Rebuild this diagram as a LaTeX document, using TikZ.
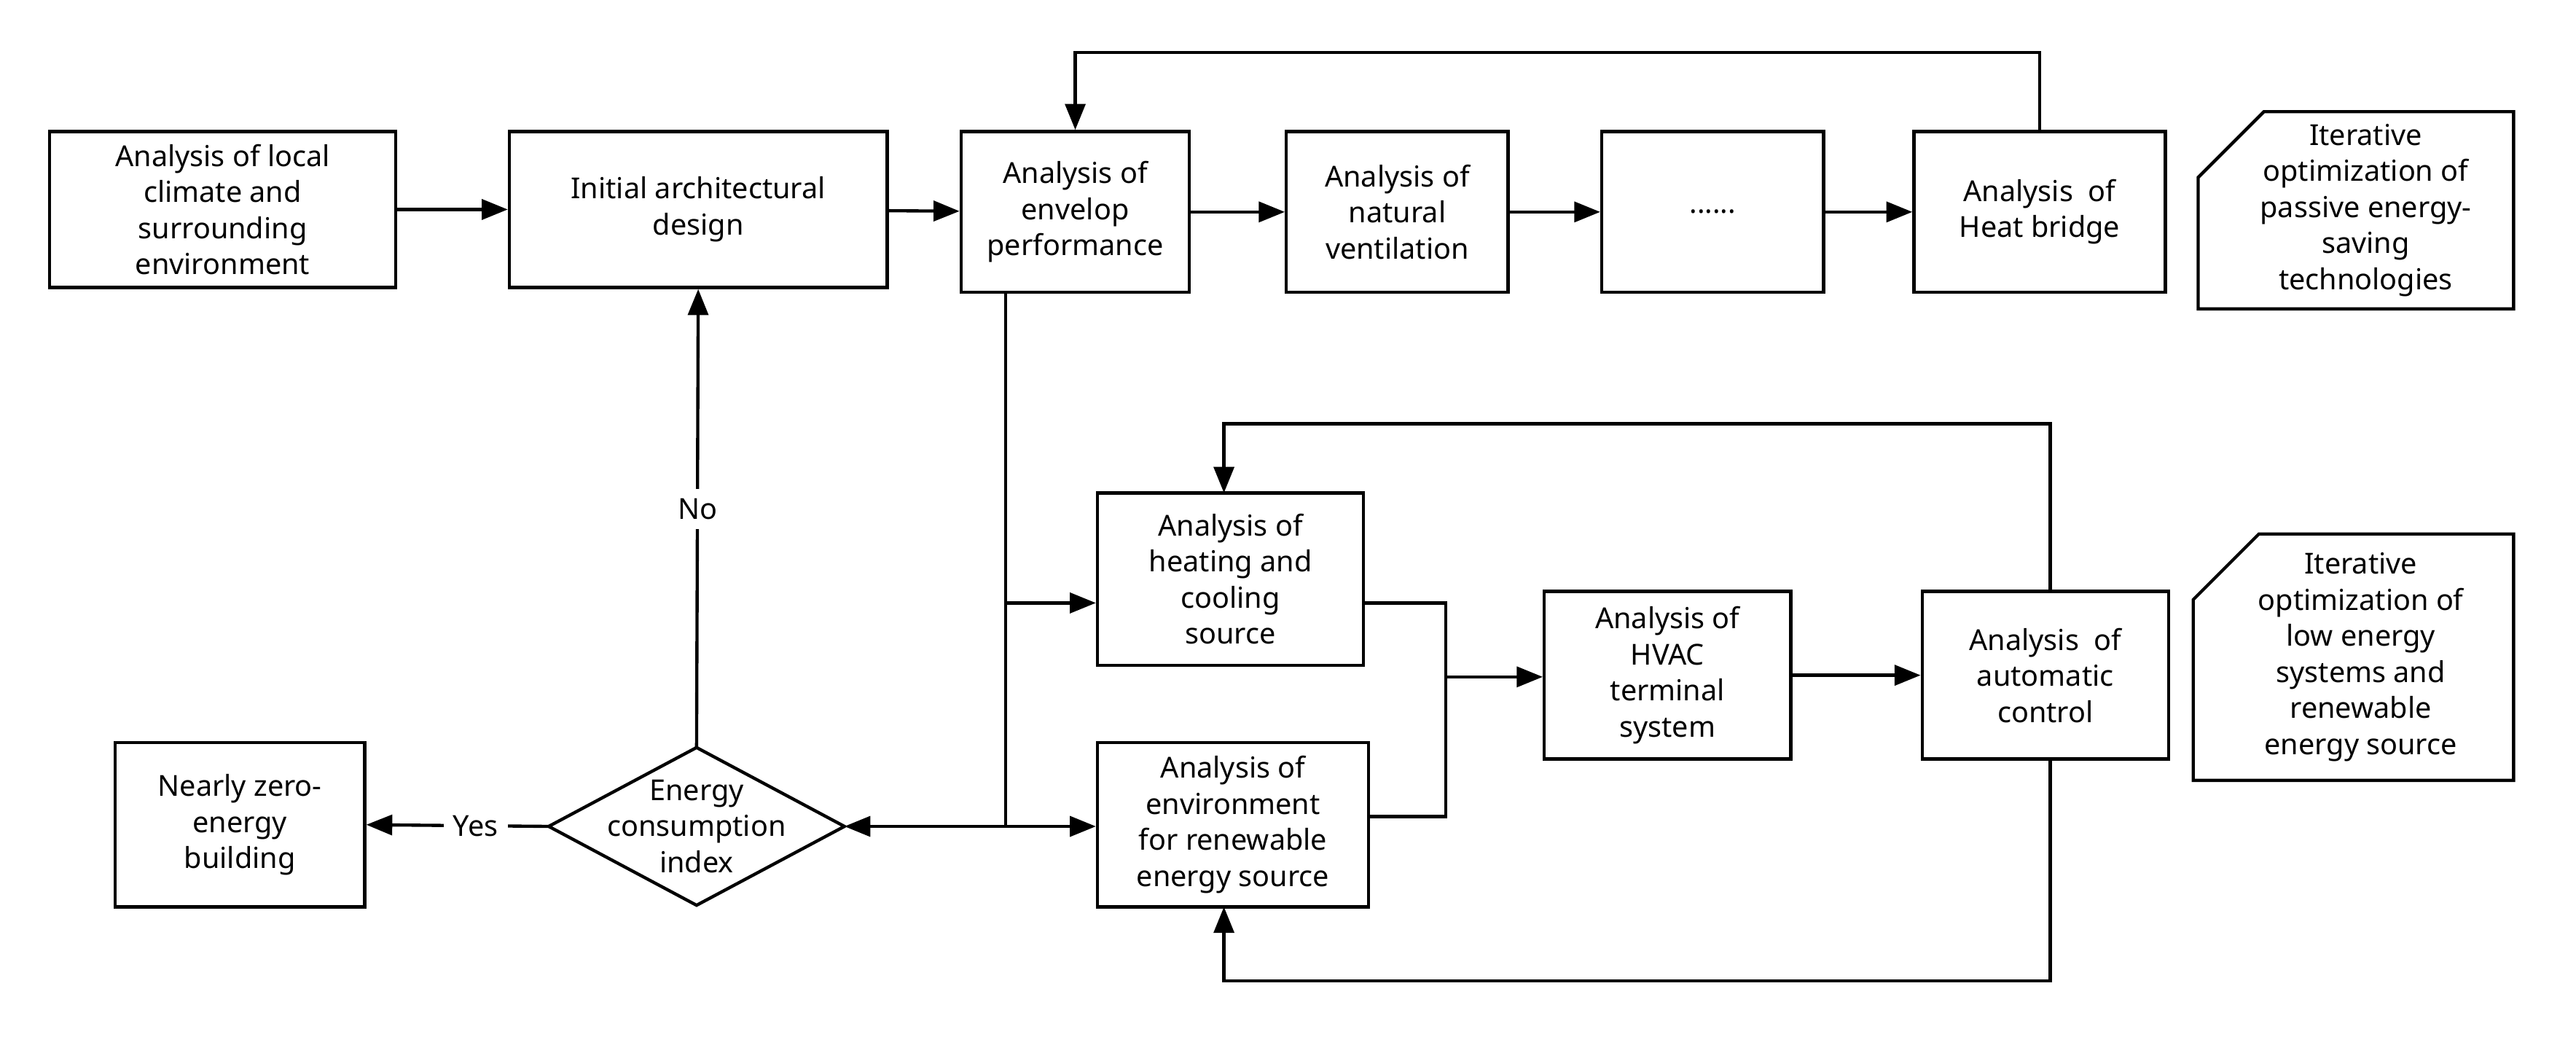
\documentclass[tikz,border=0pt]{standalone}
\usetikzlibrary{shapes.geometric,arrows.meta}
\usepackage{fontspec}
\setmainfont{Noto Sans}
\begin{document}
\begin{tikzpicture}[x=0.02cm,y=-0.02cm,
  box/.style={draw,line width=1.1pt,align=center,inner sep=1pt,font=\fontsize{10}{12.5}\selectfont},
  lab/.style={align=center,font=\fontsize{10}{12.5}\selectfont},
  ar/.style={line width=1.1pt,-{Triangle[length=9pt,width=7pt]}},
  ln/.style={line width=1.1pt}]
\useasboundingbox (0,0) rectangle (1568,636);
\node[box,minimum width=4.22cm,minimum height=1.9cm] (b1) at (135.5,127.5) {Analysis of local\\climate and\\surrounding\\environment};
\node[box,minimum width=4.6cm,minimum height=1.9cm] (b2) at (425,127.5) {Initial architectural\\design};
\node[box,minimum width=2.78cm,minimum height=1.96cm] (b3) at (654.5,129) {Analysis of\\envelop\\performance};
\node[box,minimum width=2.7cm,minimum height=1.96cm] (b4) at (850.5,129) {Analysis of\\natural\\ventilation};
\node[box,minimum width=2.7cm,minimum height=1.96cm] (b5) at (1042.5,129) {......};
\node[box,minimum width=3.06cm,minimum height=1.96cm] (b6) at (1241.5,129) {Analysis\ \ of\\Heat bridge};
\node[box,minimum width=3.24cm,minimum height=2.1cm] (b7) at (749,352.5) {Analysis of\\heating and\\cooling\\source};
\node[box,minimum width=3.3cm,minimum height=2.0cm] (b8) at (750.5,502) {Analysis of\\environment\\for renewable\\energy source};
\node[box,minimum width=3.0cm,minimum height=2.04cm] (b9) at (1015,411) {Analysis of\\HVAC\\terminal\\system};
\node[box,minimum width=3.0cm,minimum height=2.04cm] (b10) at (1245,411) {Analysis\ \ of\\automatic\\control};
\node[box,minimum width=3.04cm,minimum height=2.0cm] (b11) at (146,502) {Nearly zero-\\energy\\building};
% diamond
\coordinate (dn) at (424,455);
\coordinate (de) at (514,503);
\coordinate (ds) at (424,551);
\coordinate (dw) at (334,503);
\draw[ln] (dn) -- (de) -- (ds) -- (dw) -- cycle;
\node[lab] (d) at (424,503) {Energy\\consumption\\index};
% notes
\draw[ln] (1378,68) -- (1530,68) -- (1530,188) -- (1338,188) -- (1338,108) -- cycle;
\node[lab] (n1) at (1440,128) {Iterative\\optimization of\\passive energy-\\saving\\technologies};
\draw[ln] (1375,325) -- (1530,325) -- (1530,475) -- (1335,475) -- (1335,365) -- cycle;
\node[lab] (n2) at (1437,400) {Iterative\\optimization of\\low energy\\systems and\\renewable\\energy source};
% top chain
\draw[ar] (b1) -- (b2);
\draw[ar] (b2) -- (b3);
\draw[ar] (b3) -- (b4);
\draw[ar] (b4) -- (b5);
\draw[ar] (b5) -- (b6);
\draw[ar] (b6.north) -- ++(0,-47) -| (b3.north);
% branch from envelope
\coordinate (j1) at (612,367);
\coordinate (j2) at (612,503);
\draw[ln] (b3.south -| j1) -- (j2);
\draw[ar] (j1) -- (j1 -| b7.west);
\draw[ar] (j2) -- (b8.west |- j2);
\draw[ar] (j2) -- (de);
% merge
\coordinate (m) at (880,412);
\draw[ln] (b7.east |- 0,367) -- (880,367) -- (880,497) -- (b8.east |- 0,497);
\draw[ar] (m) -- (b9.west |- m);
\draw[ar] (b9) -- (b10);
\draw[ar] (1248,360) -- (1248,258) -- (745,258) -- (745,300);
\draw[ar] (1248,462) -- (1248,597) -- (745,597) -- (745,552);
% decisions
\draw[ar] (dn) -- node[fill=white,lab,pos=0.52] {No} (b2.south);
\draw[ar] (dw) -- node[fill=white,lab,pos=0.4] {Yes} (b11.east);
\end{tikzpicture}
\end{document}
